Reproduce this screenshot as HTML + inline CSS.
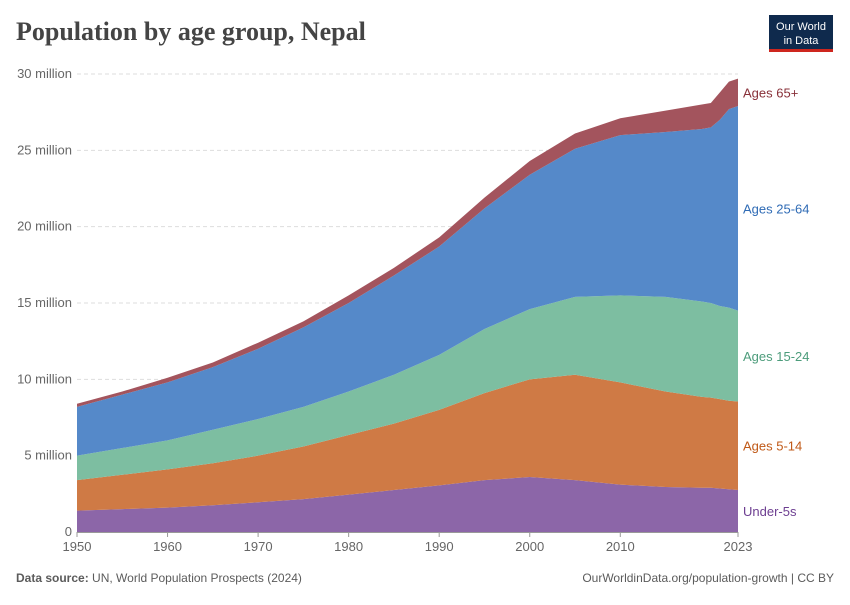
<!DOCTYPE html>
<html><head><meta charset="utf-8"><style>
body{margin:0;background:#fff;font-family:"Liberation Sans",sans-serif;}
svg text{font-family:"Liberation Sans",sans-serif;}
</style></head><body>
<svg id="c" width="850" height="600" xmlns="http://www.w3.org/2000/svg">
<text x="16" y="40" style="font-family:'Liberation Serif',serif" font-size="26" font-weight="bold" fill="#444">Population by age group, Nepal</text>
<g>
<rect x="769" y="15" width="64" height="35" fill="#0f2a4d"/>
<rect x="769" y="49" width="64" height="3" fill="#ce261e"/>
<text x="801" y="30" fill="#fff" font-size="11" text-anchor="middle">Our World</text>
<text x="801" y="44" fill="#fff" font-size="11" text-anchor="middle">in Data</text>
</g>
<g id="grid"></g><g id="areas"></g><g id="axes"></g><g id="labels"></g>
<text x="16" y="582" font-size="12" fill="#5b5b5b"><tspan font-weight="bold">Data source:</tspan> UN, World Population Prospects (2024)</text>
<text x="834" y="582" font-size="12" fill="#5b5b5b" text-anchor="end">OurWorldinData.org/population-growth | CC BY</text>
</svg>
<script>
const years=[1950,1955,1960,1965,1970,1975,1980,1985,1990,1995,2000,2005,2010,2015,2019,2020,2021,2022,2023];
const under5=[1.4,1.5,1.6,1.75,1.95,2.15,2.45,2.75,3.05,3.4,3.6,3.4,3.1,2.95,2.9,2.9,2.85,2.8,2.75];
const ages5to14=[2.0,2.25,2.5,2.75,3.05,3.45,3.9,4.35,4.95,5.7,6.4,6.9,6.7,6.25,5.95,5.9,5.85,5.8,5.8];
const ages15to24=[1.6,1.75,1.9,2.2,2.4,2.6,2.85,3.2,3.6,4.2,4.6,5.1,5.7,6.2,6.25,6.2,6.1,6.1,5.95];
const ages25to64=[3.2,3.5,3.8,4.1,4.6,5.2,5.8,6.5,7.1,7.9,8.8,9.7,10.5,10.8,11.3,11.5,12.2,13.0,13.4];
const ages65plus=[0.2,0.2,0.3,0.3,0.4,0.4,0.5,0.5,0.6,0.7,0.9,1.0,1.1,1.4,1.6,1.6,1.8,1.8,1.8];
const yTicks=[0,5,10,15,20,25,30];
const yTickLabels=["0","5 million","10 million","15 million","20 million","25 million","30 million"];
const xTicks=[1950,1960,1970,1980,1990,2000,2010,2023];
const seriesNames=["Under-5s","Ages 5-14","Ages 15-24","Ages 25-64","Ages 65+"];
const NS="http://www.w3.org/2000/svg";
const x=y=>77+(y-1950)/(2023-1950)*(738-77);
const yS=v=>532-v/30*(532-74);
function mk(t,a,p){const e=document.createElementNS(NS,t);for(const k in a)e.setAttribute(k,a[k]);p.appendChild(e);return e;}
const grid=document.getElementById('grid'),axes=document.getElementById('axes'),areas=document.getElementById('areas'),labels=document.getElementById('labels');
yTicks.forEach((t,i)=>{
 if(t>0){const l=mk('line',{x1:77,x2:738,y1:yS(t),y2:yS(t),stroke:'#ddd','stroke-dasharray':'4,3'},grid);
 }
 const tx=mk('text',{x:72,y:yS(t)+4,'font-size':13,fill:'#666','text-anchor':'end'},axes);tx.textContent=yTickLabels[i];
 
});
const bl=mk('line',{x1:77,x2:738,y1:532.5,y2:532.5,stroke:'#999'},axes);

xTicks.forEach(t=>{
 mk('line',{x1:x(t),x2:x(t),y1:532,y2:537,stroke:'#999'},axes);
 const tx=mk('text',{x:x(t),y:551,'font-size':13,fill:'#666','text-anchor':'middle'},axes);tx.textContent=t;
 
});
const series=[under5,ages5to14,ages15to24,ages25to64,ages65plus];
const fills=["#8c66a8","#cf7a45","#7dbea1","#5589c9","#a3545d"];
const lcol=["#6d3e91","#c05917","#4c9c7b","#2f6bb5","#883039"];
const slugs=["under-5","ages-5-14","ages-15-24","ages-25-64","ages-65-plus"];
let base=years.map(()=>0);
series.forEach((s,k)=>{
 const top=base.map((b,i)=>b+s[i]);
 let d='M'+years.map((y,i)=>x(y)+','+yS(top[i])).join('L');
 for(let i=years.length-1;i>=0;i--)d+='L'+x(years[i])+','+yS(base[i]);
 const p=mk('path',{d:d+'Z',fill:fills[k]},areas);
 
 const n=years.length-1,mid=(base[n]+top[n])/2;
 const t=mk('text',{x:743,y:yS(mid)+5,'font-size':13,fill:lcol[k]},labels);t.textContent=seriesNames[k];
 
 base=top;
});
</script>
</body></html>
